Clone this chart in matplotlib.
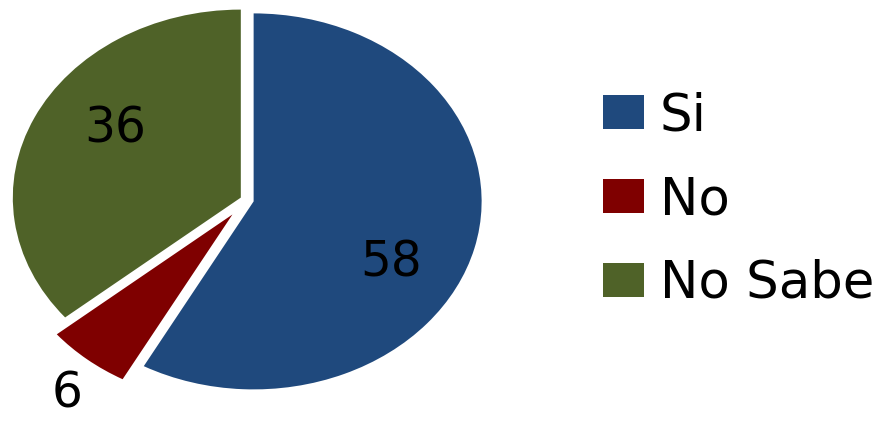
import matplotlib.pyplot as plt

labels = ['Si', 'No', 'No Sabe']
values = [58, 6, 36]
colors = ['#1F497D', '#7F0000', '#4F6228']
explode = [0.03, 0.1, 0.03]
label_pos = [(0.63, -0.33), (-0.79, -1.03), (-0.58, 0.38)]

fig = plt.figure(figsize=(8.83, 4.22), dpi=100)
ax = fig.add_axes([0, 0, 0.54, 1])

wedges, texts, autotexts = ax.pie(values, colors=colors, explode=explode, startangle=90,
                                  counterclock=False, autopct=lambda p: f'{p:.0f}',
                                  textprops={'fontsize': 35, 'color': 'black'})
for t, pos in zip(autotexts, label_pos):
    t.set_position(pos)

# ellipse: centre ~(247, 200) px from top-left, rx ~228, ry ~188
ax.set_aspect('auto')
ax.set_xlim(-247 / 228, (0.54 * 883 - 247) / 228)
ax.set_ylim(-222 / 188, 200 / 188)
ax.axis('off')

fig.legend(wedges, labels, loc='center left', bbox_to_anchor=(603 / 883, 1 - 200 / 422),
           frameon=False, fontsize=37, labelspacing=0.66, handlelength=0.8, handleheight=0.65,
           handletextpad=0.3, borderpad=0, borderaxespad=0)

plt.savefig('out.png', dpi=100)
plt.close(fig)
